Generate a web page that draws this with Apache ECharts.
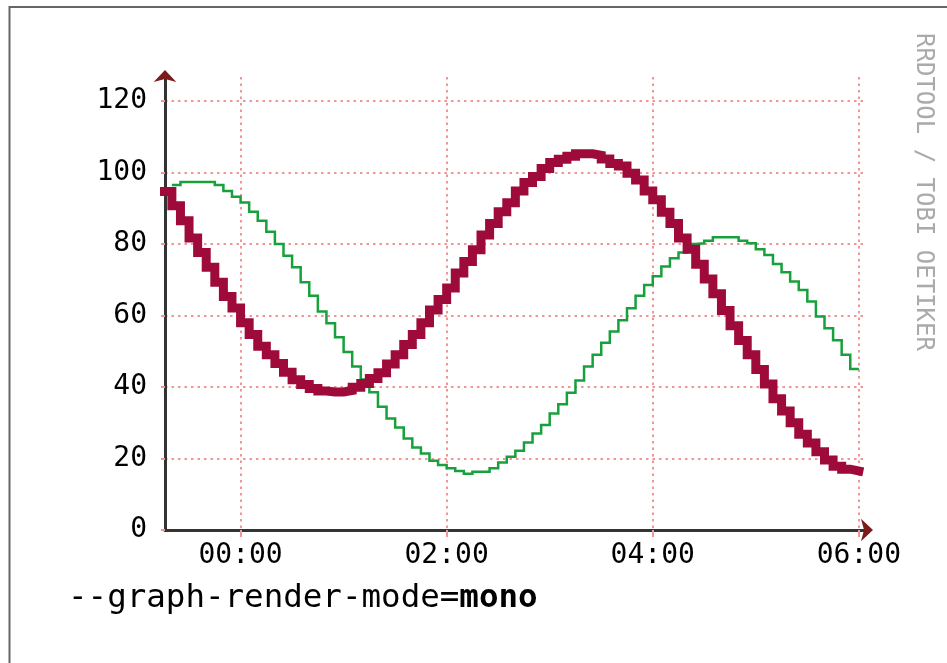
<!DOCTYPE html>
<html>
<head>
<meta charset="utf-8">
<title>graph-render-mode mono</title>
<script src="https://cdn.jsdelivr.net/npm/echarts@6/dist/echarts.min.js"></script>
<style>
  html, body { margin: 0; padding: 0; background: #fff; }
  #chart { width: 947px; height: 663px; }
</style>
</head>
<body>
<div id="chart"></div>
<script>
// minutes from 00:00, one RRD step (5 min) each
const minutes = [
  -45, -40, -35, -30, -25, -20, -15, -10, -5,
  0, 5, 10, 15, 20, 25, 30, 35, 40, 45, 50, 55,
  60, 65, 70, 75, 80, 85, 90, 95, 100, 105, 110, 115,
  120, 125, 130, 135, 140, 145, 150, 155, 160, 165, 170, 175,
  180, 185, 190, 195, 200, 205, 210, 215, 220, 225, 230, 235,
  240, 245, 250, 255, 260, 265, 270, 275, 280, 285, 290, 295,
  300, 305, 310, 315, 320, 325, 330, 335, 340, 345, 350, 355,
  360
]

// thick red line, starts at -45
const redValues = [
  94.7, 90.7, 86.5, 81.7, 77.6, 73.5, 69.3, 65.3, 62.1,
  58.0, 54.7, 51.4, 49.0, 46.6, 44.1, 42.0, 40.7, 39.6, 38.9, 38.6, 38.6,
  39.0, 39.9, 41.0, 42.4, 44.0, 46.4, 49.0, 51.9, 54.7, 58.0, 61.5, 64.5,
  67.7, 71.9, 75.1, 78.4, 82.5, 85.7, 89.0, 91.5, 94.8, 97.2, 98.9, 101.1,
  102.8, 103.7, 104.5, 105.2, 105.2, 104.8, 103.8, 102.5, 101.8, 99.8, 97.9, 94.8,
  92.4, 88.9, 85.7, 81.7, 78.5, 74.3, 70.2, 66.1, 61.4, 57.1, 53.0, 49.0,
  44.9, 40.8, 36.7, 33.3, 30.0, 26.8, 24.3, 21.9, 19.6, 17.8, 17.0, 16.5,
  16.5
]

// thin green line, starts at -40
const greenValues = [
  96.5, 97.3, 97.3, 97.3, 97.3, 96.5, 94.8, 93.2,
  91.6, 89.0, 86.5, 83.4, 80.0, 76.7, 73.5, 69.3, 65.5, 61.1, 57.8, 53.9,
  49.8, 45.7, 42.1, 38.5, 34.5, 31.2, 28.7, 25.6, 23.1, 21.4, 19.4, 18.2,
  17.3, 16.5, 15.7, 16.3, 16.3, 17.3, 18.9, 20.5, 22.2, 24.5, 27.0, 29.4,
  32.6, 35.2, 38.4, 41.8, 45.7, 49.0, 52.4, 55.5, 58.7, 62.0, 65.5, 68.5,
  71.0, 73.7, 76.0, 77.6, 80.0, 80.2, 80.9, 81.9, 81.9, 81.9, 80.9, 80.2,
  78.5, 76.9, 74.4, 72.1, 69.5, 67.1, 63.9, 59.7, 56.4, 53.1, 49.0, 45.0,
  45.0
]

const xTicks = [0, 120, 240, 360]
const yTicks = [0, 20, 40, 60, 80, 100, 120]

const mono = 'DejaVu Sans Mono'
const gridColor = '#f09696'
const arrowColor = '#7b1c1c'

function hhmm(v) {
  const h = Math.round(v / 60)
  return (h < 10 ? '0' : '') + h + ':00'
}

const redData = redValues.map((v, i) => [minutes[i], v])
const greenData = greenValues.map((v, i) => [minutes[i + 1], v])

const chart = echarts.init(document.getElementById('chart'))

const option = {
  backgroundColor: '#fff',
  animation: false,
  title: {
    left: 68,
    top: 582,
    padding: 0,
    text: '{a|--graph-render-mode=}{b|mono}',
    textStyle: {
      rich: {
        a: { fontFamily: mono, fontSize: 32.5, fontWeight: 'normal', color: '#000' },
        b: { fontFamily: mono, fontSize: 32.5, fontWeight: 'bold', color: '#000' },
      },
    },
  },
  grid: {
    left: 165,
    top: 77,
    right: 83,
    bottom: 133,
    containLabel: false,
  },
  xAxis: [
    {
      type: 'value',
      min: -44,
      max: 363,
      axisLine: {
        onZero: false,
        lineStyle: { color: '#333', width: 3 },
      },
      axisTick: {
        customValues: xTicks,
        length: 7,
        lineStyle: { color: gridColor, width: 2 },
      },
      axisLabel: {
        customValues: xTicks,
        formatter: hhmm,
        fontFamily: mono,
        fontSize: 28,
        color: '#000',
        margin: 12,
      },
      splitLine: {
        show: true,
        lineStyle: { color: gridColor, width: 2, type: [2.5, 4] },
      },
    },
    {
      // only the arrow head
      type: 'value',
      position: 'bottom',
      min: -44,
      max: 363,
      axisLine: {
        show: true,
        onZero: false,
        symbol: ['none', 'arrow'],
        symbolSize: [17, 12],
        symbolOffset: [0, 9],
        lineStyle: { color: arrowColor, width: 0 },
      },
      axisTick: { show: false },
      axisLabel: { show: false },
      splitLine: { show: false },
    },
  ],
  yAxis: [
    {
      type: 'value',
      min: 0,
      max: 126.7,
      axisLine: {
        show: true,
        onZero: false,
        lineStyle: { color: '#333', width: 3 },
      },
      axisTick: {
        show: true,
        customValues: yTicks,
        length: 4,
        lineStyle: { color: gridColor, width: 2 },
      },
      axisLabel: {
        customValues: yTicks,
        fontFamily: mono,
        fontSize: 28,
        color: '#000',
        margin: 18,
      },
      splitLine: {
        show: true,
        lineStyle: { color: gridColor, width: 2, type: [2.5, 4] },
      },
    },
    {
      type: 'value',
      position: 'left',
      min: 0,
      max: 126.7,
      axisLine: {
        show: true,
        onZero: false,
        symbol: ['none', 'arrow'],
        symbolSize: [17, 12],
        symbolOffset: [0, 7],
        lineStyle: { color: arrowColor, width: 0 },
      },
      axisTick: { show: false },
      axisLabel: { show: false },
      splitLine: { show: false },
    },
  ],
  graphic: [
    {
      type: 'rect',
      shape: { x: 9.5, y: 7, width: 1000, height: 1000 },
      style: { fill: 'none', stroke: '#666', lineWidth: 2 },
      z: -1,
    },
    {
      type: 'text',
      x: 923,
      y: 192,
      rotation: -Math.PI / 2,
      style: {
        text: 'RRDTOOL / TOBI OETIKER',
        font: '24px "DejaVu Sans Mono"',
        fill: '#aaa',
        align: 'center',
        verticalAlign: 'middle',
      },
    },
  ],
  series: [
    {
      name: 'green',
      type: 'line',
      step: 'end',
      data: greenData,
      symbol: 'none',
      lineStyle: { color: '#17a03b', width: 2.5, join: 'miter' },
      z: 2,
    },
    {
      name: 'red',
      type: 'line',
      step: 'end',
      data: redData,
      symbol: 'none',
      lineStyle: { color: '#9e0a3a', width: 9, join: 'miter', cap: 'square' },
      z: 3,
    },
  ],
}

chart.setOption(option)
</script>
</body>
</html>
